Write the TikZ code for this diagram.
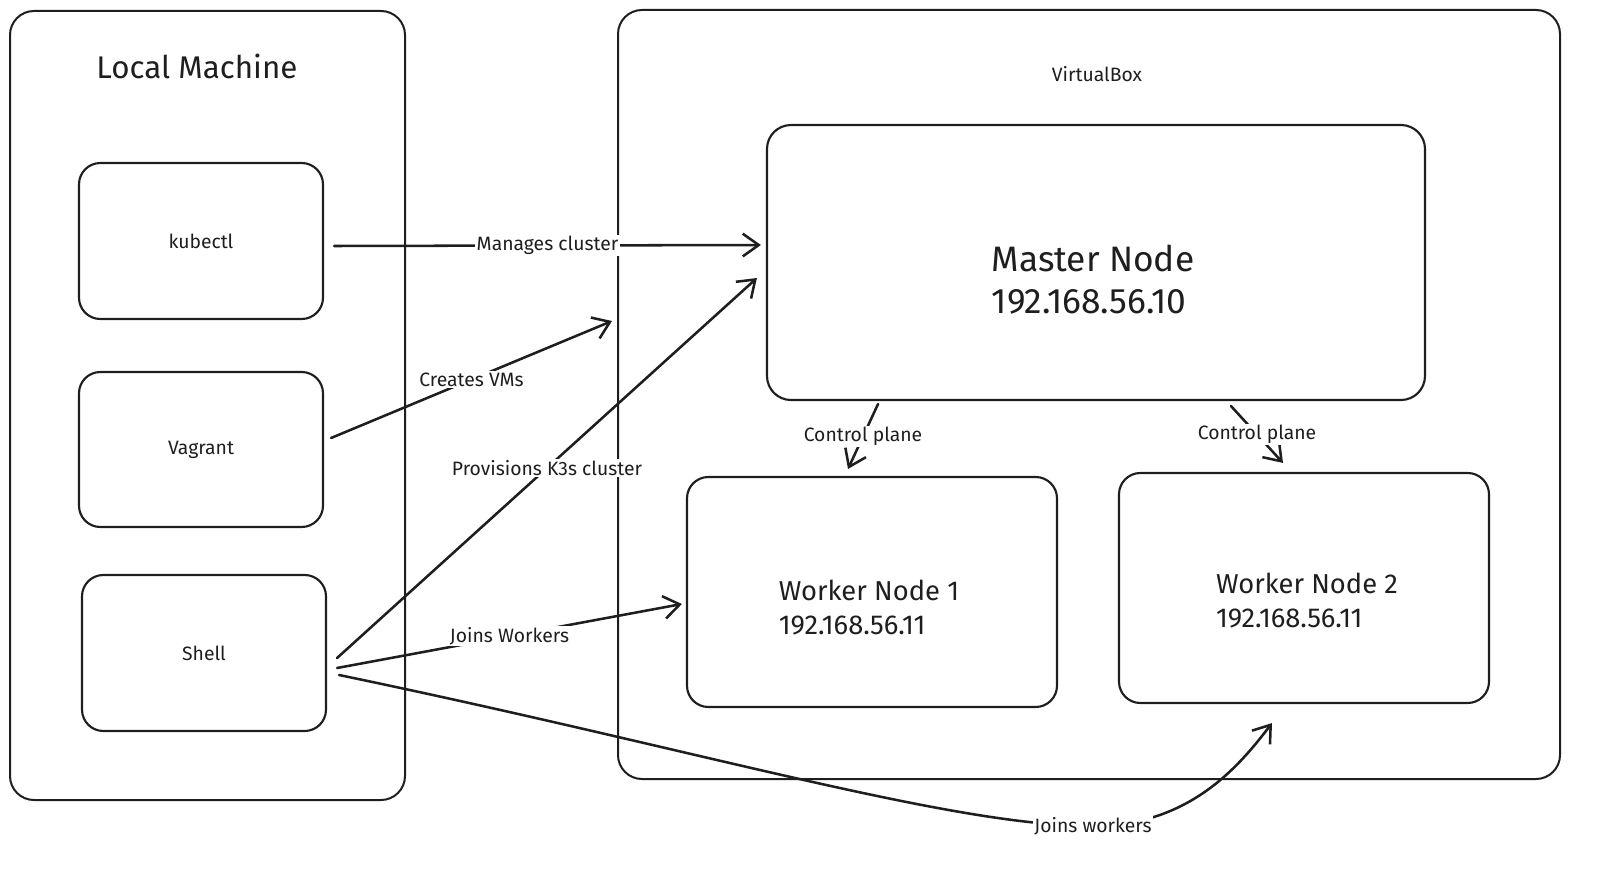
\documentclass[tikz,border=0pt]{standalone}
\usepackage{fontspec}
\setmainfont{Fira Sans}
\usetikzlibrary{arrows.meta}
\definecolor{ink}{HTML}{1E1E1E}
\tikzset{
  box/.style={draw=ink, line width=1.6pt, rounded corners=16pt, inner sep=0pt},
  bigbox/.style={draw=ink, line width=1.5pt, rounded corners=18pt, inner sep=0pt},
  smalltxt/.style={font=\fontsize{14.5}{17}\selectfont, text=ink},
  lbl/.style={font=\fontsize{14.5}{17}\selectfont, text=ink, fill=white, inner sep=1pt},
  arr/.style={draw=ink, line width=1.9pt, line cap=round, -{Straight Barb[length=12pt,width=17pt,line width=1.9pt]}},
}
\begin{document}
\begin{tikzpicture}[x=0.75pt,y=-0.75pt]
\useasboundingbox (0,0) rectangle (1614,874);
% containers
\node[bigbox, minimum width=296.25pt, minimum height=591.75pt] (local) at (207.5,405.5) {};
\node[font=\fontsize{23.5}{27}\selectfont, text=ink] (localt) at (197,66) {Local Machine};
\node[bigbox, minimum width=706.5pt, minimum height=576.75pt] (vbox) at (1089,394.5) {};
\node[smalltxt] (vboxt) at (1097,74) {VirtualBox};
% local tools
\node[box, minimum width=183pt, minimum height=117pt, smalltxt] (kubectl) at (201,241) {kubectl};
\node[box, minimum width=183pt, minimum height=116.25pt, smalltxt] (vagrant) at (201,449.5) {Vagrant};
\node[box, minimum width=183pt, minimum height=117pt, smalltxt] (shell) at (204,653) {Shell};
% cluster nodes
\node[box, rounded corners=18pt, minimum width=493.5pt, minimum height=206.25pt] (master) at (1096,262.5) {};
\node[font=\fontsize{26.5}{31.5}\selectfont, text=ink, align=left] (mastert) at (1093,280) {Master Node\\192.168.56.10};
\node[box, minimum width=277.5pt, minimum height=172.5pt] (w1) at (872,592) {};
\node[font=\fontsize{20.5}{25.5}\selectfont, text=ink, align=left] (w1t) at (869,608) {Worker Node 1\\192.168.56.11};
\node[box, minimum width=277.5pt, minimum height=172.5pt] (w2) at (1304,588) {};
\node[font=\fontsize{20.5}{25.5}\selectfont, text=ink, align=left] (w2t) at (1307,601) {Worker Node 2\\192.168.56.11};
% free ends
\coordinate (vmtip) at (612,321);
\coordinate (jw) at (1093,826);
% connectors
\draw[arr] ([shift={(10,5)}]kubectl.east) -- ([shift={(-5,-17.5)}]master.west) node[lbl, pos=0.5] {Manages cluster};
\draw[arr] ([shift={(7,-11.5)}]vagrant.east) -- (vmtip) node[lbl, pos=0.5] {Creates VMs};
\draw[arr] ([shift={(10,5)}]shell.east) -- ([shift={(-9,15.5)}]master.west) node[lbl, pos=0.5] {Provisions K3s cluster};
\draw[arr] ([shift={(10,15)}]shell.east) -- ([shift={(-4,12)}]w1.west) node[lbl, pos=0.5] {Joins Workers};
\draw[arr] ([shift={(12,22)}]shell.east) .. controls (700,750) and (950,826) .. (jw) .. controls (1190,826) and (1240,765) .. ([shift={(-32,19)}]w2.south);
\node[lbl] (jwl) at (jw) {Joins workers};
\draw[arr] ([shift={(-218,3)}]master.south) -- ([shift={(-24,-7)}]w1.north) node[lbl, pos=0.5] {Control plane};
\draw[arr] ([shift={(135,5)}]master.south) -- ([shift={(-21,-9)}]w2.north) node[lbl, pos=0.5] {Control plane};
\end{tikzpicture}
\end{document}
